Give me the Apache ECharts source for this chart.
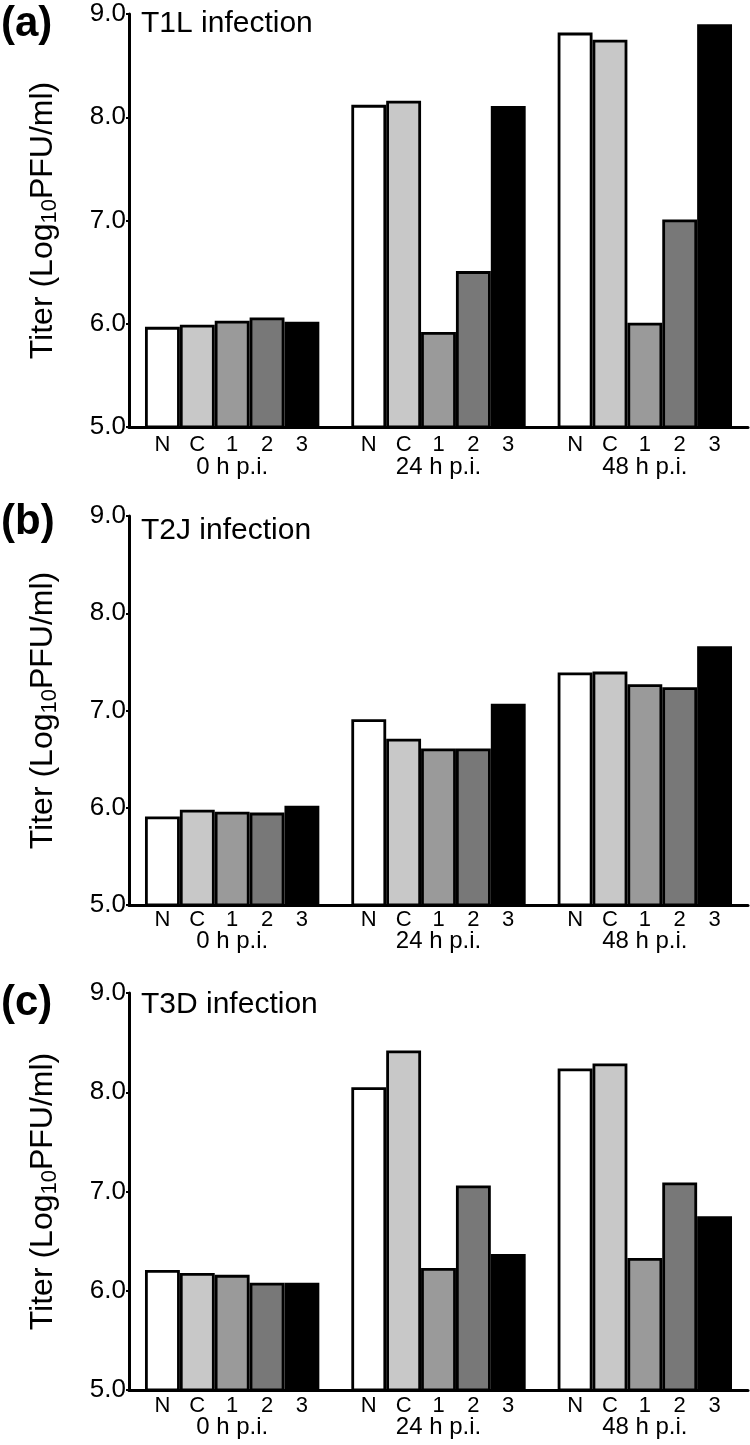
<!DOCTYPE html>
<html>
<head>
<meta charset="utf-8">
<script src="https://cdn.jsdelivr.net/npm/echarts@6/dist/echarts.min.js"></script>
<style>
html,body{margin:0;padding:0;background:#fff;}
#chart{width:750px;height:1445px;}
</style>
</head>
<body>
<div id="chart"></div>
<script>
// ---- data ----
var groups = ['0 h p.i.', '24 h p.i.', '48 h p.i.'];
var subLabels = ['N', 'C', '1', '2', '3'];
var yTicks = [5, 6, 7, 8, 9];
var panelTags = ['(a)', '(b)', '(c)'];
var panelTitles = ['T1L infection', 'T2J infection', 'T3D infection'];
// rows: N, C, 1, 2, 3 ; columns: 0 h, 24 h, 48 h
var t1lTiters = [
  [5.97, 8.12, 8.82],
  [5.99, 8.16, 8.75],
  [6.03, 5.92, 6.01],
  [6.06, 6.51, 7.01],
  [6.02, 8.11, 8.90]
];
var t2jTiters = [
  [5.91, 6.91, 7.39],
  [5.98, 6.71, 7.40],
  [5.96, 6.61, 7.27],
  [5.95, 6.61, 7.24],
  [6.02, 7.07, 7.66]
];
var t3dTiters = [
  [6.21, 8.05, 8.24],
  [6.18, 8.42, 8.29],
  [6.16, 6.23, 6.33],
  [6.08, 7.06, 7.09],
  [6.08, 6.37, 6.75]
];

// ---- styling / layout ----
var FONT = '"Liberation Sans", Arial, Helvetica, sans-serif';
var barColors = ['#ffffff', '#c8c8c8', '#9a9a9a', '#787878', '#000000'];
var panelData = [t1lTiters, t2jTiters, t3dTiters];
var grids = [
  {top: 14, height: 413},
  {top: 516, height: 389},
  {top: 993, height: 397}
];
var subLabelDist = [6, 3, 4];
var groupLabelMargin = [28, 24, 25];
var titleY = [26, 533, 1007];
var tagY = [25, 523, 1004];

var option = {
  animation: false,
  backgroundColor: '#ffffff',
  grid: [],
  xAxis: [],
  yAxis: [],
  series: [],
  graphic: []
};

panelData.forEach(function (rows, p) {
  option.grid.push({left: 129, right: 2, top: grids[p].top, height: grids[p].height, containLabel: false});
  option.xAxis.push({
    type: 'category',
    gridIndex: p,
    data: groups,
    axisLine: {lineStyle: {color: '#000', width: 3}},
    axisTick: {show: false},
    axisLabel: {color: '#000', fontSize: 24, fontFamily: FONT, margin: groupLabelMargin[p]},
    splitLine: {show: false}
  });
  option.yAxis.push({
    type: 'value',
    gridIndex: p,
    min: yTicks[0],
    max: yTicks[yTicks.length - 1],
    interval: 1,
    axisLine: {show: true, lineStyle: {color: '#000', width: 3}},
    axisTick: {show: true, length: 3, lineStyle: {color: '#000', width: 2}},
    axisLabel: {
      color: '#000', fontSize: 26, fontFamily: FONT, margin: 3,
      formatter: function (v) { return v.toFixed(1); }
    },
    splitLine: {show: false},
    name: '{m|Titer (Log}{s|10}{m|PFU/ml)}',
    nameLocation: 'middle',
    nameGap: 68,
    nameTextStyle: {
      rich: {
        m: {fontSize: 32, fontFamily: FONT, color: '#000', verticalAlign: 'bottom', lineHeight: 36, padding: [0, 0, 2, 0]},
        s: {fontSize: 22, fontFamily: FONT, color: '#000', verticalAlign: 'bottom', lineHeight: 20}
      }
    }
  });
  rows.forEach(function (vals, i) {
    option.series.push({
      type: 'bar',
      name: subLabels[i],
      xAxisIndex: p,
      yAxisIndex: p,
      data: vals,
      barGap: '0%',
      barCategoryGap: '15.5%',
      itemStyle: {color: barColors[i], borderColor: '#000', borderWidth: 2.8},
      label: {
        show: true,
        position: 'bottom',
        distance: subLabelDist[p],
        formatter: subLabels[i],
        color: '#000',
        fontSize: 22,
        fontFamily: FONT
      }
    });
  });
  option.graphic.push({
    type: 'text', left: 1, top: tagY[p] - 22,
    style: {text: panelTags[p], font: 'bold 42px ' + FONT, fill: '#000'}
  });
  option.graphic.push({
    type: 'text', left: 141, top: titleY[p] - 17,
    style: {text: panelTitles[p], font: '30px ' + FONT, fill: '#000'}
  });
});

var chart = echarts.init(document.getElementById('chart'), null, {renderer: 'canvas'});
chart.setOption(option);
</script>
</body>
</html>
